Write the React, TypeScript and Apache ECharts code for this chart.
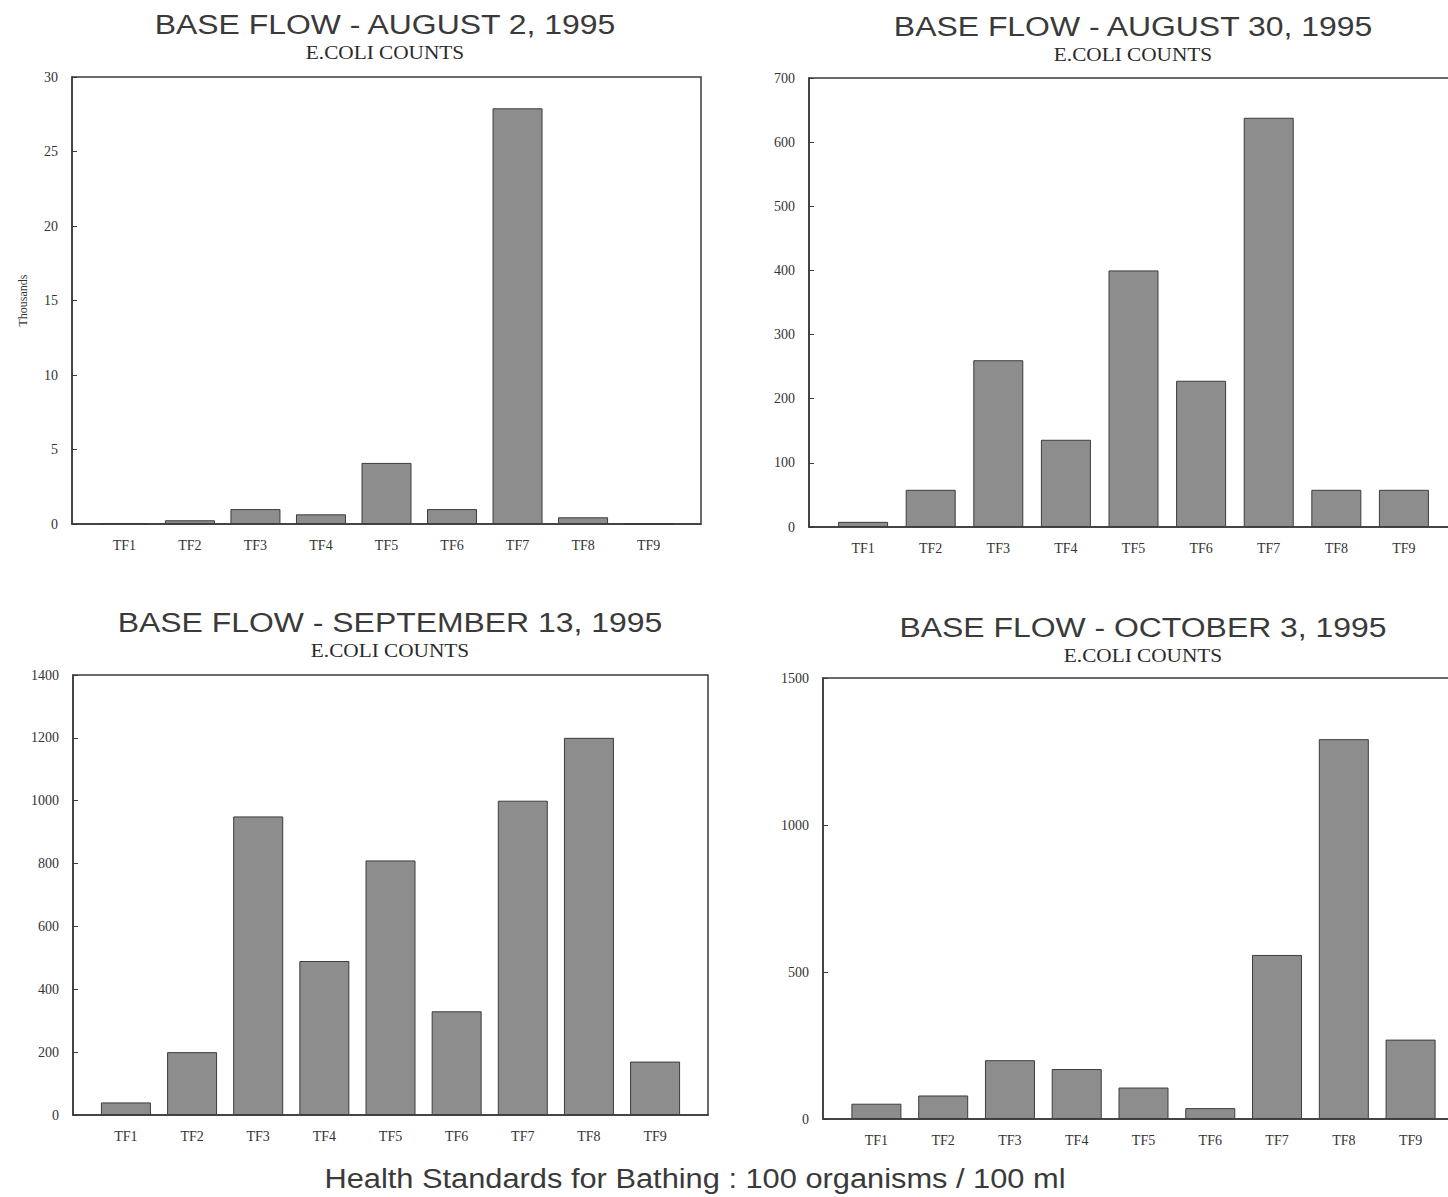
import React, { useEffect, useRef } from "react";
import * as echarts from "echarts";

const categories = ["TF1", "TF2", "TF3", "TF4", "TF5", "TF6", "TF7", "TF8", "TF9"];

const aug2Values = [0.05, 0.25, 1.0, 0.65, 4.1, 1.0, 27.9, 0.45, 0.02];
const aug30Values = [8, 58, 260, 136, 400, 228, 638, 58, 58];
const sep13Values = [40, 200, 950, 490, 810, 330, 1000, 1200, 170];
const oct3Values = [52, 80, 200, 170, 107, 37, 558, 1292, 270];

const panelTitles = [
  "BASE FLOW - AUGUST 2, 1995",
  "BASE FLOW - AUGUST 30, 1995",
  "BASE FLOW - SEPTEMBER 13, 1995",
  "BASE FLOW - OCTOBER 3, 1995",
];
const subTitle = "E.COLI COUNTS";
const yMaxes = [30, 700, 1400, 1500];
const yIntervals = [5, 100, 200, 500];
const footerText = "Health Standards for Bathing : 100 organisms / 100 ml";

const W = 1448;
const panels = [
  { left: 72, top: 77, width: 629, height: 447, titleX: 385, titleY: 24, subY: 52, yName: "Thousands", data: aug2Values },
  { left: 809, top: 78, width: 649, height: 449, titleX: 1133, titleY: 26, subY: 54, yName: "", data: aug30Values },
  { left: 73, top: 675, width: 635, height: 440, titleX: 390, titleY: 622, subY: 650, yName: "", data: sep13Values },
  { left: 823, top: 678, width: 641, height: 441, titleX: 1143, titleY: 627, subY: 655, yName: "", data: oct3Values },
];

const SERIF = "'Liberation Serif', 'DejaVu Serif', serif";
const SANS = "'Liberation Sans', Arial, sans-serif";

export default function App() {
  const ref = useRef<HTMLDivElement>(null);
  useEffect(() => {
    if (!ref.current) return;
    const chart = echarts.init(ref.current, undefined, { renderer: "svg" });
    const grid: any[] = [];
    const xAxis: any[] = [];
    const yAxis: any[] = [];
    const series: any[] = [];
    const graphic: any[] = [];
    panels.forEach((p, i) => {
      grid.push({
        left: p.left,
        top: p.top,
        width: p.width,
        height: p.height,
        show: true,
        borderColor: "#3a3a3a",
        borderWidth: 1.5,
        backgroundColor: "transparent",
        containLabel: false,
        outerBoundsMode: "none",
      });
      xAxis.push({
        type: "value",
        gridIndex: i,
        min: 0.2,
        max: 9.8,
        splitLine: { show: false },
        axisTick: { show: false },
        axisLine: { show: true, lineStyle: { color: "#3a3a3a", width: 1.5 } },
        axisLabel: {
          customValues: categories.map((_, k) => k + 1),
          formatter: (v: number) => categories[Math.round(v) - 1] || "",
          fontFamily: SERIF,
          fontSize: 14,
          color: "#333",
          margin: 14,
        },
      });
      yAxis.push({
        type: "value",
        gridIndex: i,
        min: 0,
        max: yMaxes[i],
        interval: yIntervals[i],
        splitLine: { show: false },
        axisLine: { show: true, lineStyle: { color: "#3a3a3a", width: 1.5 } },
        axisTick: { show: true, inside: true, length: 5, lineStyle: { color: "#3a3a3a" } },
        axisLabel: {
          fontFamily: SERIF,
          fontSize: 14,
          color: "#333",
          margin: 14,
          formatter: (v: number) => String(v),
        },
        name: p.yName,
        nameLocation: "middle",
        nameRotate: 90,
        nameGap: 43,
        nameTextStyle: { fontFamily: SERIF, fontSize: 12, color: "#333" },
      });
      series.push({
        type: "bar",
        xAxisIndex: i,
        yAxisIndex: i,
        barWidth: 50,
        data: p.data.map((v, k) => [k + 1, v]),
        itemStyle: { color: "#8d8d8d", borderColor: "#3c3c3c", borderWidth: 1 },
      });
      graphic.push({
        type: "text",
        x: p.titleX,
        y: p.titleY,
        scaleX: 1.14,
        style: {
          text: panelTitles[i],
          x: 0,
          y: 0,
          textAlign: "center",
          textVerticalAlign: "middle",
          fontFamily: SANS,
          fontSize: 28,
          fill: "#3a3a3a",
        },
      });
      graphic.push({
        type: "text",
        x: p.titleX,
        y: p.subY,
        scaleX: 1.12,
        style: {
          text: subTitle,
          x: 0,
          y: 0,
          textAlign: "center",
          textVerticalAlign: "middle",
          fontFamily: SERIF,
          fontSize: 19,
          fill: "#2a2a2a",
        },
      });
    });
    graphic.push({
      type: "text",
      x: 695,
      y: 1178,
      scaleX: 1.1,
      style: {
        text: footerText,
        x: 0,
        y: 0,
        textAlign: "center",
        textVerticalAlign: "middle",
        fontFamily: SANS,
        fontSize: 28,
        fill: "#3a3a3a",
      },
    });
    chart.setOption({
      animation: false,
      backgroundColor: "#ffffff",
      grid,
      xAxis,
      yAxis,
      series,
      graphic,
    });
    return () => chart.dispose();
  }, []);
  return (
    <div
      ref={ref}
      style={{ position: "absolute", left: 0, top: 0, width: W, height: 1197 }}
    />
  );
}
